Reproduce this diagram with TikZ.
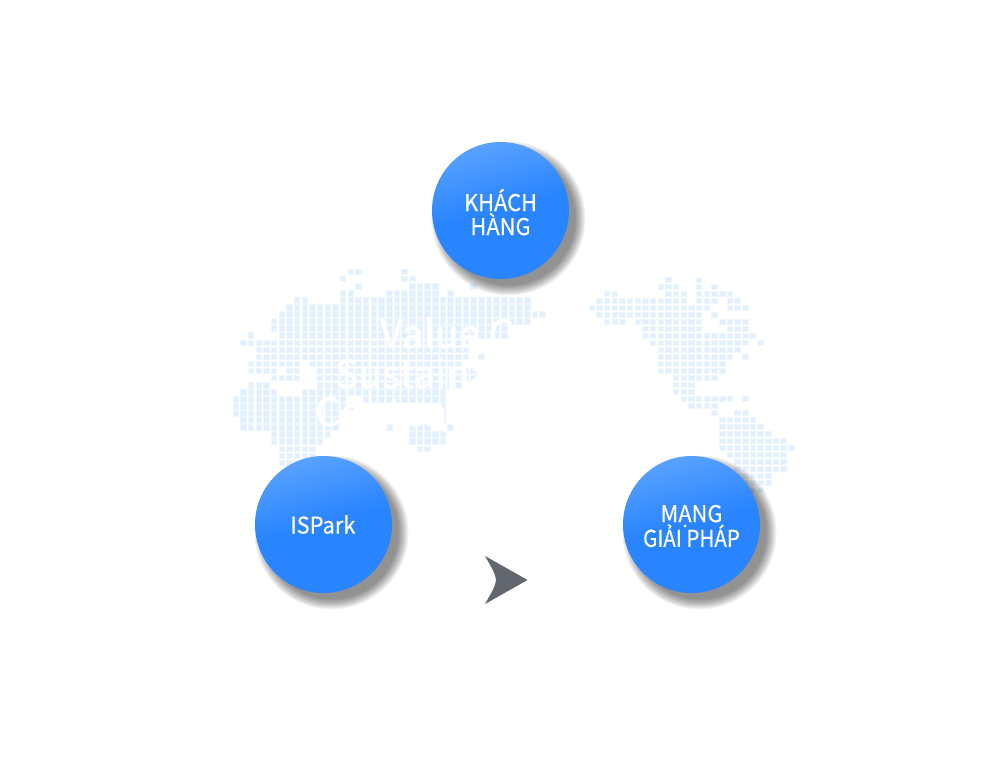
\documentclass[tikz,border=0pt]{standalone}
\usepackage{fontspec}
\setmainfont{Noto Sans}
\newfontfamily\bubfont[FakeBold=0.35,FakeStretch=0.95]{Noto Sans CJK KR}
\newfontfamily\ghostfont[FakeBold=1.2]{Noto Sans CJK KR}
\definecolor{mapfill}{HTML}{E2EFFF}
\definecolor{mapedge}{HTML}{EEF6FF}
\definecolor{circtop}{HTML}{58A1FF}
\definecolor{circbot}{HTML}{2884FF}
\definecolor{arrowgrey}{HTML}{62666F}
\tikzset{
  mapsq/.style={fill=mapfill,draw=mapedge,line width=0.8},
  bubble/.style={circle,minimum size=137,inner sep=0,
    top color=circtop,bottom color=circbot,middle color=circbot,shading angle=15},
  bubtext/.style={text=white,align=center,inner sep=0,
    font=\bubfont\fontsize{23}{24}\selectfont},
  ghost/.style={text=white,anchor=base west,inner sep=0,font=\ghostfont\fontsize{39}{40}\selectfont},
}
\newcommand{\softshadow}[2]{%
  \foreach \rr in {67,68,...,77}{\fill[black,opacity=.047] (#1+8,#2-8) circle (\rr);}}
\begin{document}
\begin{tikzpicture}[x=1pt,y=1pt]
\useasboundingbox (0,0) rectangle (1000,-770);
\fill[white] (0,0) rectangle (1000,-770);
% left part of the dotted map
\foreach \r/\runs in {0/{15/16,22/22},1/{14/14,22/23},2/{16/16,23/26,31/31},3/{14/15,20/26,28/28},
  4/{8/9,14/38},5/{7/38},6/{6/40},7/{5/38},8/{5/35},9/{2/2,6/35},10/{1/30},11/{3/30},12/{3/30,32/32},
  13/{2/8,10/29},14/{2/5,7/8,11/31},15/{5/8,11/31},16/{2/4,11/29},17/{1/5,9/27},18/{0/14,17/27},
  19/{0/15,27/27},20/{0/13,27/27},21/{1/13,27/27},22/{1/13,20/20,23/25,28/28},23/{5/12,23/27},
  24/{5/11,23/27},25/{6/10,24/25},26/{6/10},27/{6/9}}{
  \foreach \a/\b in \runs {\foreach \c in {\a,...,\b}{
    \fill[mapsq] ({232.9+7.67*\c},{-269.2-7.07*\r}) rectangle ++(5.6,-5.6);}}}
% right part of the dotted map
\foreach \r/\runs in {0/{10/10,14/14},1/{9/11,14/14,16/16},2/{2/3,10/12,14/18},3/{1/12,14/16,18/19},
  4/{0/15,18/20},5/{1/14,16/16},6/{2/4,6/14,17/20},7/{7/14,18/20},8/{7/21},9/{8/20,22/22},10/{9/19},
  11/{9/18,20/20},12/{9/17},13/{9/17},14/{11/16},15/{11/13},16/{11/13},17/{12/18,20/20},18/{13/16},
  19/{16/16,19/20},20/{17/21},21/{17/22},22/{17/23},23/{17/25},24/{17/26},25/{18/25},26/{19/25},
  27/{19/25},28/{19/23},29/{20/23},30/{21/22}}{
  \foreach \a/\b in \runs {\foreach \c in {\a,...,\b}{
    \fill[mapsq] ({588.9+7.67*\c},{-276.9-7*\r}) rectangle ++(5.6,-5.6);}}}
% white lettering over the map
\node[ghost] (t1) at (380,-348) {Value C};
\node[ghost] (t2) at (335,-388) {Sustaina};
\node[ghost] (t3) at (315,-426) {Content};
% circles
\softshadow{500.5}{-210.5}
\softshadow{323.5}{-524.5}
\softshadow{691.5}{-524.5}
\node[bubble] (k) at (500.5,-210.5) {};
\node[bubble] (i) at (323.5,-524.5) {};
\node[bubble] (m) at (691.5,-524.5) {};
\node[bubtext] (kt) at ([yshift=-1.5]k.center) {KHÁCH\\HÀNG};
\node[bubtext] (it) at ([xshift=-0.7]i.center) {ISPark};
\node[bubtext] (mt) at ([yshift=-1.5]m.center) {MẠNG\\[-4pt]\scalebox{.94}[1]{GIẢI PHÁP}};
% arrowhead
\fill[arrowgrey] (527.5,-580) -- (485,-556) .. controls (490,-565) and (495,-572) .. (496,-580)
  .. controls (495,-588) and (490,-595) .. (485,-604) -- cycle;
\end{tikzpicture}
\end{document}
